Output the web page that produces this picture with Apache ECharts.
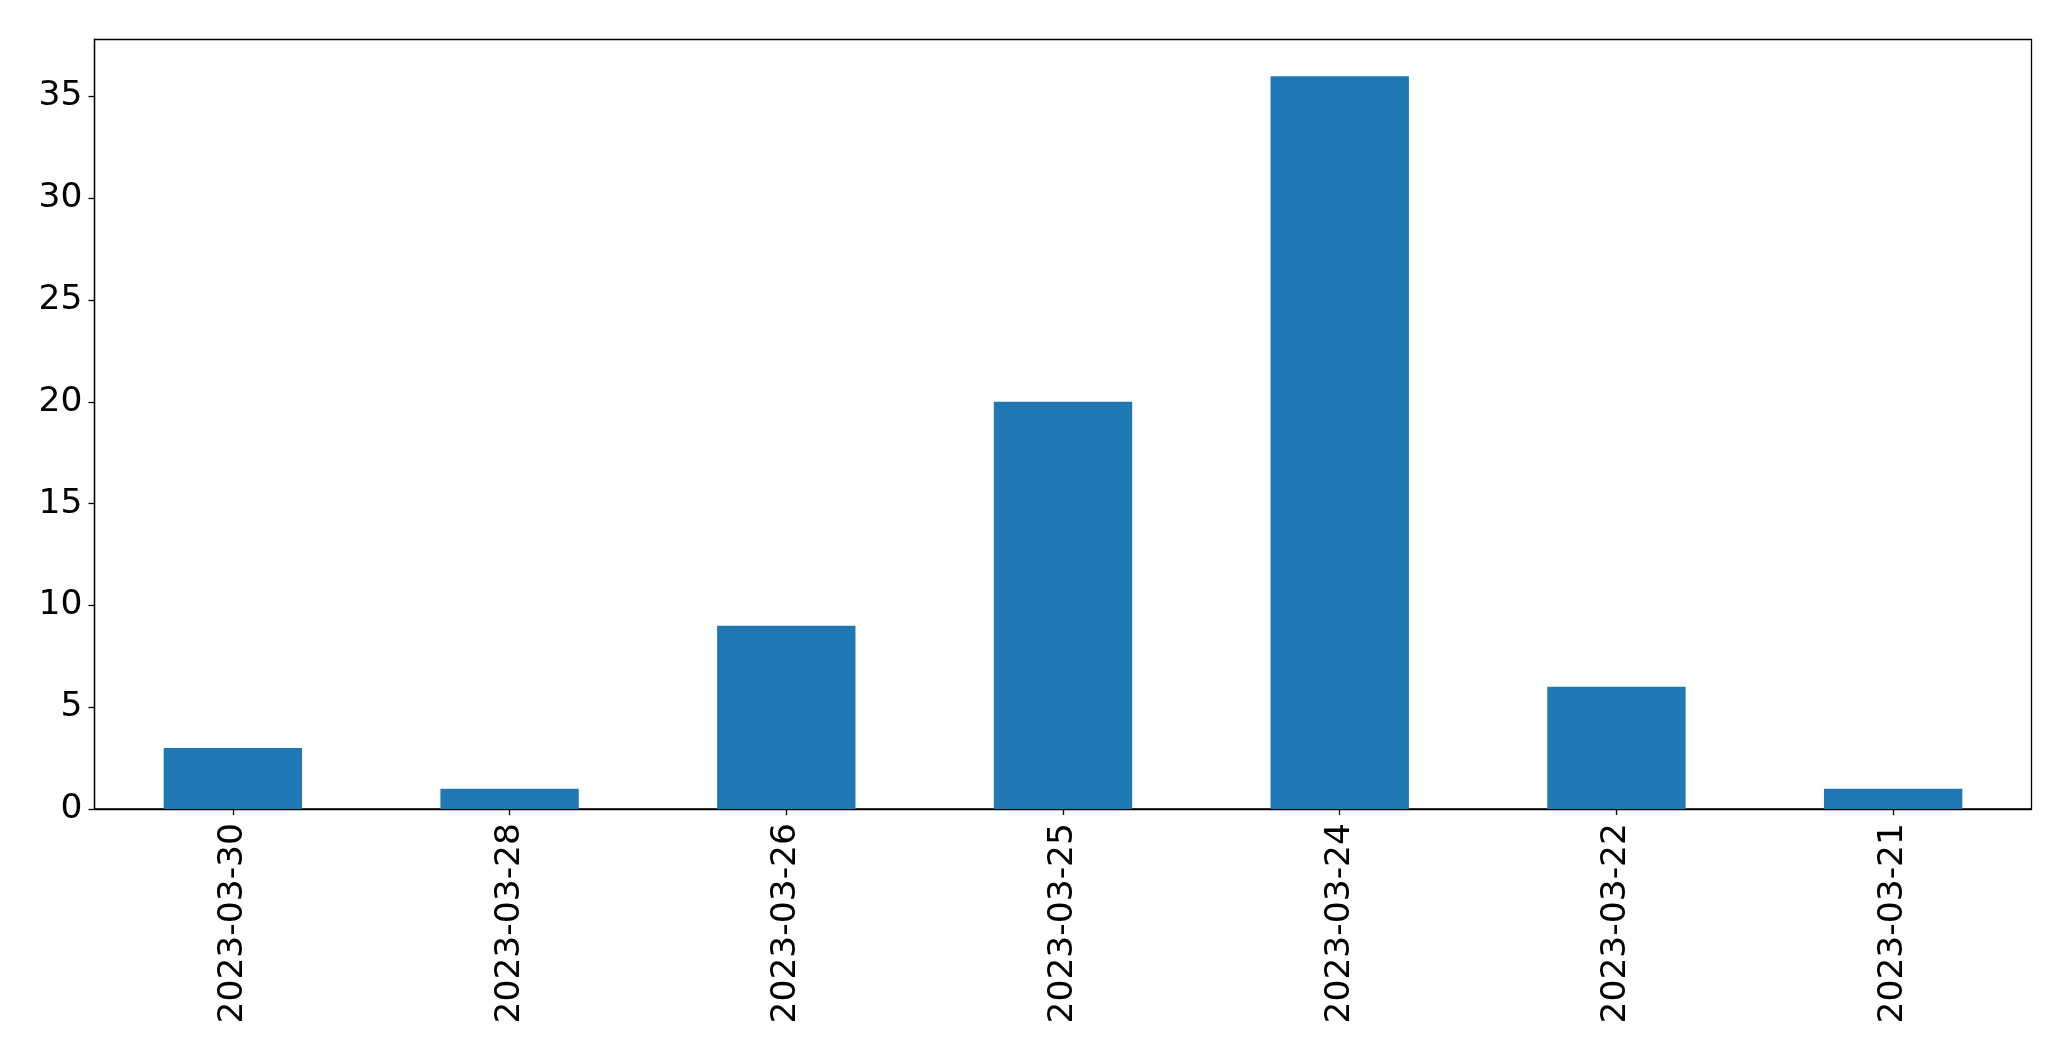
<!DOCTYPE html>
<html><head><meta charset="utf-8">
<script src="https://cdn.jsdelivr.net/npm/echarts@6/dist/echarts.min.js"></script>
<style>html,body{margin:0;padding:0;background:#fff}#c{width:2071px;height:1061px}</style>
</head><body><div id="c"></div>
<script>
const categories = ['2023-03-30','2023-03-28','2023-03-26','2023-03-25','2023-03-24','2023-03-22','2023-03-21'];
const values = [3, 1, 9, 20, 36, 6, 1];
const yTicks = [0, 5, 10, 15, 20, 25, 30, 35];
const yMax = 37.8;

const chart = echarts.init(document.getElementById('c'), null, {renderer: 'canvas'});
const font = 'DejaVu Sans';
chart.setOption({
  animation: false,
  backgroundColor: '#ffffff',
  grid: {left: 94.5, right: 39.5, top: 39.5, bottom: 252, show: true, borderColor: '#000', borderWidth: 1.3, backgroundColor: 'transparent'},
  xAxis: {
    type: 'category', data: categories, boundaryGap: true,
    axisLine: {show: true, lineStyle: {color: '#000', width: 1.3}},
    axisTick: {show: true, alignWithLabel: true, length: 6, lineStyle: {color: '#000', width: 1.3}},
    axisLabel: {rotate: 90, color: '#000', fontFamily: font, fontSize: 34.5, margin: 14, interval: 0},
    splitLine: {show: false}
  },
  yAxis: {
    type: 'value', min: 0, max: yMax, interval: 5,
    axisLine: {show: true, lineStyle: {color: '#000', width: 1.3}},
    axisTick: {show: true, length: 6, lineStyle: {color: '#000', width: 1.3}, customValues: yTicks},
    axisLabel: {color: '#000', fontFamily: font, fontSize: 34.5, margin: 12, customValues: yTicks},
    splitLine: {show: false}
  },
  series: [{
    type: 'bar', data: values, barWidth: '50%',
    itemStyle: {color: '#1f77b4'}
  }]
});
</script></body></html>
